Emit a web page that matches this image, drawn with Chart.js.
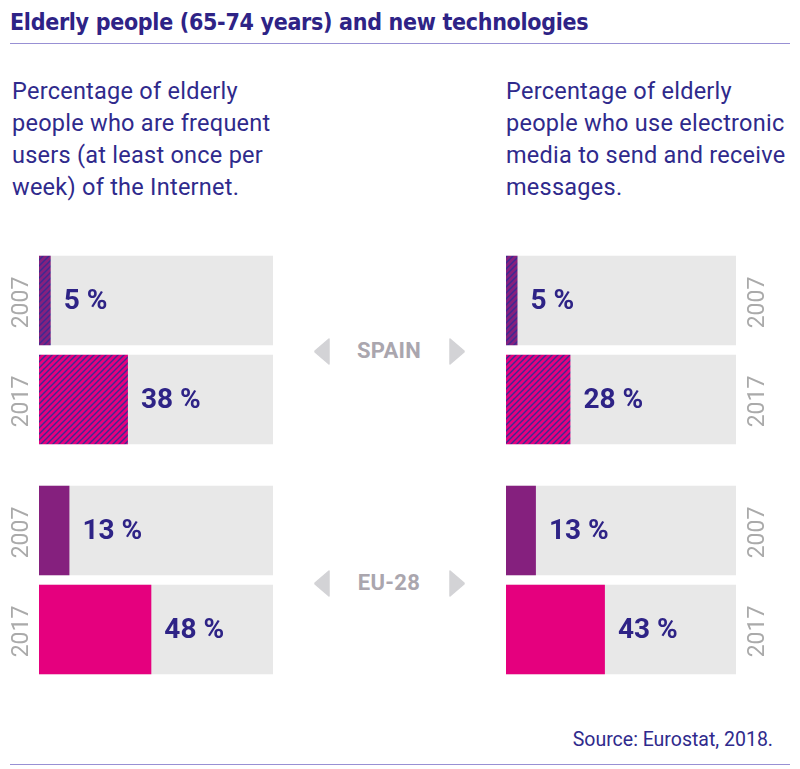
<!DOCTYPE html>
<html>
<head>
<meta charset="utf-8">
<script src="https://cdn.jsdelivr.net/npm/chart.js@4.4.1/dist/chart.umd.min.js"></script>
<style>
  html, body { margin:0; padding:0; background:#fff; }
  body { width:800px; height:769px; position:relative; overflow:hidden; font-family: Roboto, "Open Sans", sans-serif; }
  .title { position:absolute; left:10px; top:9px; font-family:"Liberation Sans Narrow","DejaVu Sans Condensed",Roboto,sans-serif; font-stretch:condensed; font-weight:bold; font-size:23px; color:#2e2386; letter-spacing:-0.3px; white-space:nowrap; }
  .rule { position:absolute; left:10px; width:780px; height:0; border-top:1.5px solid #9890d4; }
  .sub { position:absolute; top:75px; font-size:23.5px; letter-spacing:0.25px; line-height:32px; color:#2f2a8c; white-space:nowrap; }
  .group { position:absolute; left:300px; width:180px; height:30px; }
  .group span { position:absolute; left:0; width:178px; text-align:center; top:2px; font-weight:bold; font-size:22px; color:#aaa6ae; letter-spacing:0.3px; }
  .group svg { position:absolute; top:2px; }
  .source { position:absolute; right:27px; top:728px; font-size:19.5px; color:#2f2a8c; white-space:nowrap; }
  canvas { position:absolute; }
</style>
</head>
<body>
<div class="title">Elderly people (65-74 years) and new technologies</div>
<div class="rule" style="top:43px"></div>
<div class="sub" style="left:12px">Percentage of elderly<br>people who are frequent<br>users (at least once per<br>week) of the Internet.</div>
<div class="sub" style="left:506px">Percentage of elderly<br>people who use electronic<br>media to send and receive<br>messages.</div>

<div class="group" style="top:336px">
  <svg style="left:14px" width="16" height="27" viewBox="0 0 16 27"><path d="M15 1 L15 26 L1 14 L1 13 Z" fill="#d3d3d6" stroke="#d3d3d6" stroke-linejoin="round" stroke-width="1.5"/></svg>
  <span>SPAIN</span>
  <svg style="left:149px" width="16" height="27" viewBox="0 0 16 27"><path d="M1 1 L1 26 L15 14 L15 13 Z" fill="#d3d3d6" stroke="#d3d3d6" stroke-linejoin="round" stroke-width="1.5"/></svg>
</div>
<div class="group" style="top:568px">
  <svg style="left:14px" width="16" height="27" viewBox="0 0 16 27"><path d="M15 1 L15 26 L1 14 L1 13 Z" fill="#d3d3d6" stroke="#d3d3d6" stroke-linejoin="round" stroke-width="1.5"/></svg>
  <span>EU-28</span>
  <svg style="left:149px" width="16" height="27" viewBox="0 0 16 27"><path d="M1 1 L1 26 L15 14 L15 13 Z" fill="#d3d3d6" stroke="#d3d3d6" stroke-linejoin="round" stroke-width="1.5"/></svg>
</div>

<canvas id="lSpain" width="273" height="198" style="left:0px;top:251px"></canvas>
<canvas id="lEU" width="273" height="198" style="left:0px;top:481px"></canvas>
<canvas id="rSpain" width="270" height="198" style="left:506px;top:251px"></canvas>
<canvas id="rEU" width="270" height="198" style="left:506px;top:481px"></canvas>

<div class="source">Source: Eurostat, 2018.</div>
<div class="rule" style="top:764px"></div>

<script>
// ---- data ----
const years = ['2007', '2017'];
const spainInternet = [5, 38];
const euInternet = [13, 48];
const spainMessages = [5, 28];
const euMessages = [13, 43];
const trackMax = 100;

// ---- styles ----
const NAVY = '#2e2386';
const PURPLE = '#85207e';
const MAGENTA = '#e5007e';
const TRACK = '#e8e8e8';

function hatch(base) {
  const c = document.createElement('canvas');
  c.width = 6; c.height = 6;
  const g = c.getContext('2d');
  g.fillStyle = base; g.fillRect(0, 0, 6, 6);
  g.strokeStyle = '#3b2a92'; g.lineWidth = 1.4;
  g.beginPath();
  g.moveTo(-1, 7); g.lineTo(7, -1);
  g.moveTo(-1, 1); g.lineTo(1, -1);
  g.moveTo(5, 7); g.lineTo(7, 5);
  g.stroke();
  return g.createPattern(c, 'repeat');
}

const labelPlugin = {
  id: 'barLabels',
  afterDatasetsDraw(chart, args, opts) {
    const ctx = chart.ctx;
    const meta = chart.getDatasetMeta(1);
    const ds = chart.data.datasets[1];
    ctx.save();
    ctx.font = 'bold 28px Roboto';
    ctx.fillStyle = NAVY;
    ctx.textBaseline = 'middle';
    ctx.textAlign = 'left';
    meta.data.forEach((bar, i) => {
      ctx.fillText(ds.data[i] + ' %', bar.x + 13, bar.y + 1);
    });
    const yScale = chart.scales.y;
    ctx.font = '23px Roboto';
    ctx.fillStyle = '#aaaaaa';
    ctx.textAlign = 'center';
    chart.data.labels.forEach((lab, i) => {
      const y = yScale.getPixelForTick(i);
      const x = opts.side === 'left' ? chart.chartArea.left - 17 : chart.chartArea.right + 22;
      ctx.save();
      ctx.translate(x, y + 2);
      ctx.rotate(-Math.PI / 2);
      ctx.fillText(lab, 0, 0);
      ctx.restore();
    });
    ctx.restore();
  }
};

function makeChart(id, values, colors, side) {
  return new Chart(document.getElementById(id), {
    type: 'bar',
    data: {
      labels: years,
      datasets: [
        { data: years.map(() => trackMax), backgroundColor: TRACK, grouped: false, order: 2,
          categoryPercentage: 1, barPercentage: 0.904 },
        { data: values, backgroundColor: colors, grouped: false, order: 1,
          categoryPercentage: 1, barPercentage: 0.904 }
      ]
    },
    options: {
      indexAxis: 'y',
      responsive: false,
      animation: false,
      layout: { padding: side === 'left' ? { left: 39, right: 0, top: 0, bottom: 0 } : { left: 0, right: 40, top: 0, bottom: 0 } },
      scales: {
        x: { display: false, min: 0, max: trackMax },
        y: { display: false }
      },
      plugins: { legend: { display: false }, tooltip: { enabled: false }, barLabels: { side } }
    },
    plugins: [labelPlugin]
  });
}

makeChart('lSpain', spainInternet, [hatch(PURPLE), hatch(MAGENTA)], 'left');
makeChart('lEU', euInternet, [PURPLE, MAGENTA], 'left');
makeChart('rSpain', spainMessages, [hatch(PURPLE), hatch(MAGENTA)], 'right');
makeChart('rEU', euMessages, [PURPLE, MAGENTA], 'right');
</script>
</body>
</html>
